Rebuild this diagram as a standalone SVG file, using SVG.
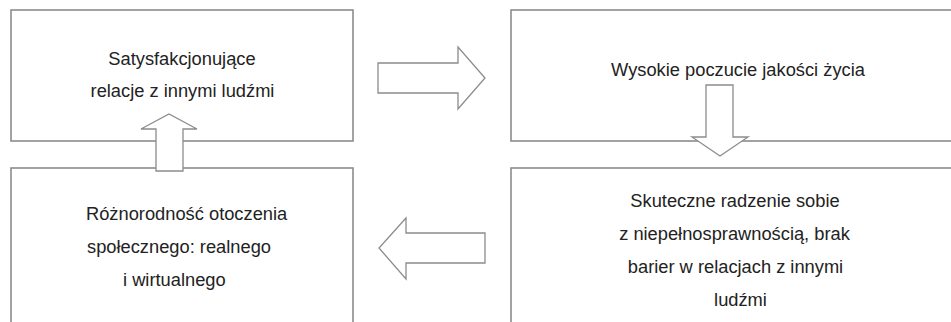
<svg xmlns="http://www.w3.org/2000/svg" width="951" height="322" viewBox="0 0 951 322">
<style>
.box{fill:#ffffff;stroke:#8c8c8c;stroke-width:1.6}
.arr{fill:#ffffff;stroke:#8c8c8c;stroke-width:1.3;stroke-linejoin:miter}
.t{font-family:"Liberation Sans",Arial,sans-serif;font-size:18.3px;fill:#222222}
.c{text-anchor:middle}
</style>
<rect width="951" height="322" fill="#ffffff"/>
<g id="node-satysfakcjonujace">
<rect class="box" x="11" y="10" width="342" height="131"/>
<text class="t c" x="182" y="65">Satysfakcjonujące</text>
<text class="t c" x="182.5" y="97">relacje z innymi ludźmi</text>
</g>
<g id="node-wysokie">
<rect class="box" x="511" y="10" width="470" height="131"/>
<text class="t c" x="738" y="76">Wysokie poczucie jakości życia</text>
</g>
<g id="node-roznorodnosc">
<rect class="box" x="11" y="168" width="342" height="200"/>
<text class="t" x="86" y="220">Różnorodność otoczenia</text>
<text class="t" x="87" y="253">społecznego: realnego</text>
<text class="t" x="123" y="286">i wirtualnego</text>
</g>
<g id="node-skuteczne">
<rect class="box" x="511" y="168" width="470" height="200"/>
<text class="t c" x="735" y="207">Skuteczne radzenie sobie</text>
<text class="t c" x="734.5" y="240">z niepełnosprawnością, brak</text>
<text class="t c" x="735.5" y="273">barier w relacjach z innymi</text>
<text class="t c" x="740.5" y="306">ludźmi</text>
</g>
<g id="connectors">
<polygon class="arr" points="378,63 458,63 458,47 485,78 458,109 458,93 378,93"/>
<polygon class="arr" points="706,85 733,85 733,137 748,137 720,156 692,137 706,137"/>
<polygon class="arr" points="485,233 406,233 406,218 379,248 406,279 406,263 485,263"/>
<polygon class="arr" points="156,171 156,129 141,129 169,114 197,129 183,129 183,171"/>
</g>
</svg>
